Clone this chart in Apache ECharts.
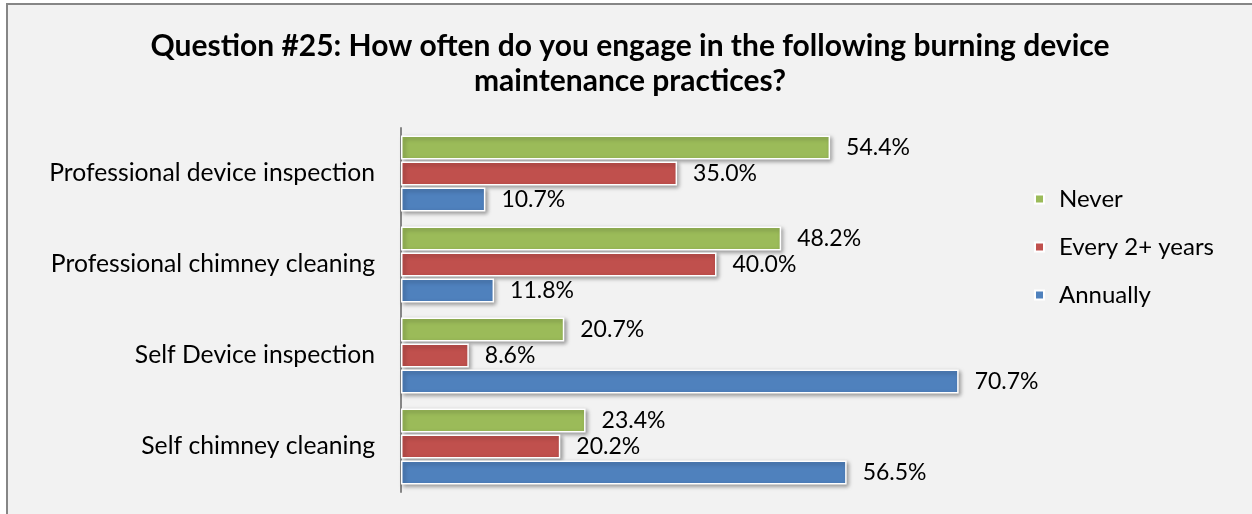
<!DOCTYPE html>
<html>
<head>
<meta charset="utf-8">
<script src="https://cdn.jsdelivr.net/npm/echarts@6/dist/echarts.min.js"></script>
<style>
  html, body { margin: 0; padding: 0; background: #ffffff; }
  #frame {
    position: absolute; left: 6px; top: 3px; width: 1260px; height: 520px;
    background: #f2f2f2; border-left: 2px solid #868686; border-top: 2px solid #868686;
  }
  #chart { position: absolute; left: 0; top: 0; width: 1252px; height: 514px; }
</style>
</head>
<body>
<div id="frame"></div>
<div id="chart"></div>
<script>
const titleText = 'Question #25: How often do you engage in the following burning device\nmaintenance practices?';
const categories = [
  'Professional device inspection',
  'Professional chimney cleaning',
  'Self Device inspection',
  'Self chimney cleaning'
];
const seriesNames = ['Never', 'Every 2+ years', 'Annually'];
const neverValues = [54.4, 48.2, 20.7, 23.4];
const every2Values = [35.0, 40.0, 8.6, 20.2];
const annualValues = [10.7, 11.8, 70.7, 56.5];
const colors = ['#9bbb59', '#c0504d', '#4f81bd'];

const font = 'Lato, "Open Sans", sans-serif';

function barSeries(name, data, color) {
  return {
    name: name,
    type: 'bar',
    data: data,
    barWidth: 24,
    barGap: '8%',
    itemStyle: {
      color: color,
      borderColor: '#ffffff',
      borderWidth: 1.5,
      shadowBlur: 4,
      shadowOffsetX: 2,
      shadowOffsetY: 2,
      shadowColor: 'rgba(0,0,0,0.35)'
    },
    label: {
      show: true,
      position: 'right',
      distance: 16,
      formatter: p => p.value.toFixed(1) + '%',
      fontFamily: font,
      fontSize: 23,
      color: '#000000'
    }
  };
}

const chart = echarts.init(document.getElementById('chart'), null, { renderer: 'canvas' });
chart.setOption({
  backgroundColor: 'transparent',
  animation: false,
  title: {
    text: titleText,
    left: 630,
    textAlign: 'center',
    top: 29,
    padding: 0,
    textStyle: {
      fontFamily: font,
      fontWeight: 'bold',
      fontSize: 30,
      lineHeight: 35,
      color: '#000000'
    }
  },
  legend: {
    orient: 'vertical',
    left: 1034,
    top: 187,
    padding: 0,
    itemWidth: 9,
    itemHeight: 9,
    itemGap: 24,
    icon: 'rect',
    textStyle: { fontFamily: font, fontSize: 24, color: '#000000', padding: [0, 0, 0, 10] },
    data: seriesNames
  },
  grid: { left: 401, right: 220, top: 128, bottom: 22, containLabel: false },
  xAxis: {
    type: 'value',
    min: 0,
    max: 80,
    show: false
  },
  yAxis: {
    type: 'category',
    data: categories,
    inverse: true,
    axisLine: { show: true, lineStyle: { color: '#868686', width: 2 } },
    axisTick: { show: false },
    axisLabel: {
      fontFamily: font,
      fontSize: 24.7,
      color: '#000000',
      margin: 26
    }
  },
  series: [
    barSeries(seriesNames[0], neverValues, colors[0]),
    barSeries(seriesNames[1], every2Values, colors[1]),
    barSeries(seriesNames[2], annualValues, colors[2])
  ]
});
</script>
</body>
</html>
